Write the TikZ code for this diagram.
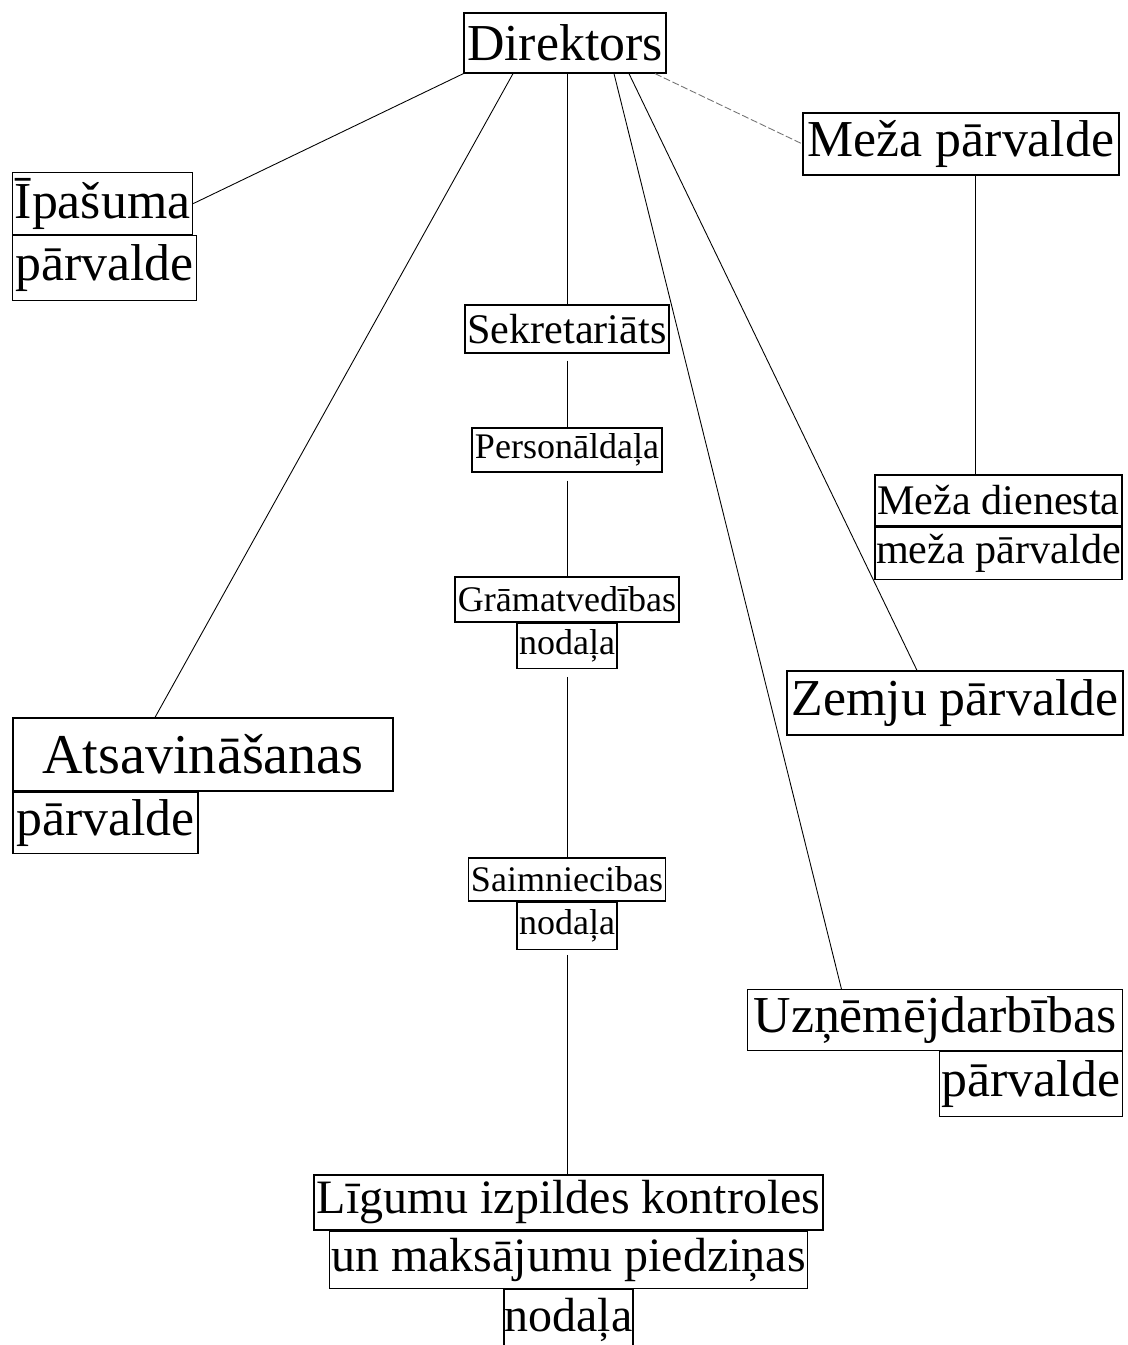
\documentclass[tikz,border=0pt]{standalone}
\usepackage{fontspec}
\setmainfont{Liberation Serif}
\usetikzlibrary{positioning}
\begin{document}
\begin{tikzpicture}[x=0.02cm,y=-0.02cm,
  box/.style={draw, line width=0.7pt, inner sep=0pt, align=center},
  big/.style={box, font=\fontsize{29.5}{32}\selectfont},
  mid/.style={box, font=\fontsize{24}{26}\selectfont},
  small/.style={box, font=\fontsize{20.5}{22}\selectfont},
  liga/.style={box, font=\fontsize{27.3}{30}\selectfont},
  link/.style={line width=0.5pt},
  faint/.style={line width=0.5pt, draw=black!55, dash pattern=on 4pt off 1.5pt}]
  \useasboundingbox (0,0) rectangle (1128,1345);
  \node[big, minimum width=4.04cm, minimum height=1.2cm] (dir) at (565,43) {Direktors};
  \node[big, anchor=north west, minimum width=3.6cm, minimum height=1.24cm] (ipas1) at (12,172) {Īpašuma};
  \node[big, below=0pt of ipas1.south west, anchor=north west, minimum width=3.68cm, minimum height=1.3cm] (ipas2) {pārvalde};
  \node[big, minimum width=6.32cm, minimum height=1.24cm] (meza) at (961,144) {Meža pārvalde};
  \node[mid, minimum width=4.08cm, minimum height=0.96cm] (sek) at (567,329) {Sekretariāts};
  \node[small, minimum width=3.8cm, minimum height=0.88cm] (pers) at (567,450) {Personāldaļa};
  \node[small, minimum width=4.48cm, minimum height=0.9cm] (gram1) at (567,599.5) {Grāmatvedības};
  \node[small, below=0pt of gram1, minimum width=2cm, minimum height=0.9cm] (gram2) {nodaļa};
  \node[mid, minimum width=4.94cm, minimum height=1.02cm] (mdien1) at (998.5,500.5) {Meža dienesta};
  \node[mid, below=0pt of mdien1, minimum width=4.94cm, minimum height=1.04cm] (mdien2) {meža pārvalde};
  \node[big, minimum width=6.72cm, minimum height=1.28cm] (zem) at (955,703) {Zemju pārvalde};
  \node[box, font=\fontsize{32}{34}\selectfont, minimum width=7.6cm, minimum height=1.46cm] (ats1) at (203,754.5) {Atsavināšanas};
  \node[big, below=0pt of ats1.south west, anchor=north west, minimum width=3.7cm, minimum height=1.22cm] (ats2) {pārvalde};
  \node[small, minimum width=3.94cm, minimum height=0.86cm] (saim1) at (567,879.5) {Saimniecibas};
  \node[small, below=0pt of saim1, minimum width=2cm, minimum height=0.94cm] (saim2) {nodaļa};
  \node[big, anchor=north east, minimum width=7.5cm, minimum height=1.22cm] (uzn1) at (1123,989) {Uzņēmējdarbības};
  \node[big, below=0pt of uzn1.south east, anchor=north east, minimum width=3.66cm, minimum height=1.3cm] (uzn2) {pārvalde};
  \node[liga, minimum width=10.18cm, minimum height=1.1cm] (lig1) at (568.5,1202.5) {Līgumu izpildes kontroles};
  \node[liga, below=0pt of lig1, minimum width=9.56cm, minimum height=1.14cm] (lig2) {un maksājumu piedziņas};
  \node[liga, below=0pt of lig2, minimum width=2.58cm, minimum height=1.24cm] (lig3) {nodaļa};
  \draw[link] (dir.south west) -- (ipas1.east);
  \draw[link] ([xshift=-1.04cm]dir.south) -- ([xshift=-0.96cm]ats1.north);
  \draw[link] (dir.south -| sek.north) -- (sek.north);
  \draw[link, shorten <=0.14cm] (sek) -- (pers);
  \draw[link, shorten <=0.16cm] (pers) -- (gram1);
  \draw[link, shorten <=0.16cm] (gram2) -- (saim1);
  \draw[link, shorten <=0.1cm] (saim2.south) -- (saim2.south |- lig1.north);
  \draw[link] ([xshift=0.98cm]dir.south) -- ([xshift=-1.87cm]uzn1.north);
  \draw[link] ([xshift=1.28cm]dir.south) -- ([xshift=-0.76cm]zem.north);
  \draw[faint] ([xshift=1.8cm]dir.south) -- (meza.west);
  \draw[link] ([xshift=0.28cm]meza.south) -- ([xshift=0.28cm]meza.south |- mdien1.north);
\end{tikzpicture}
\end{document}
